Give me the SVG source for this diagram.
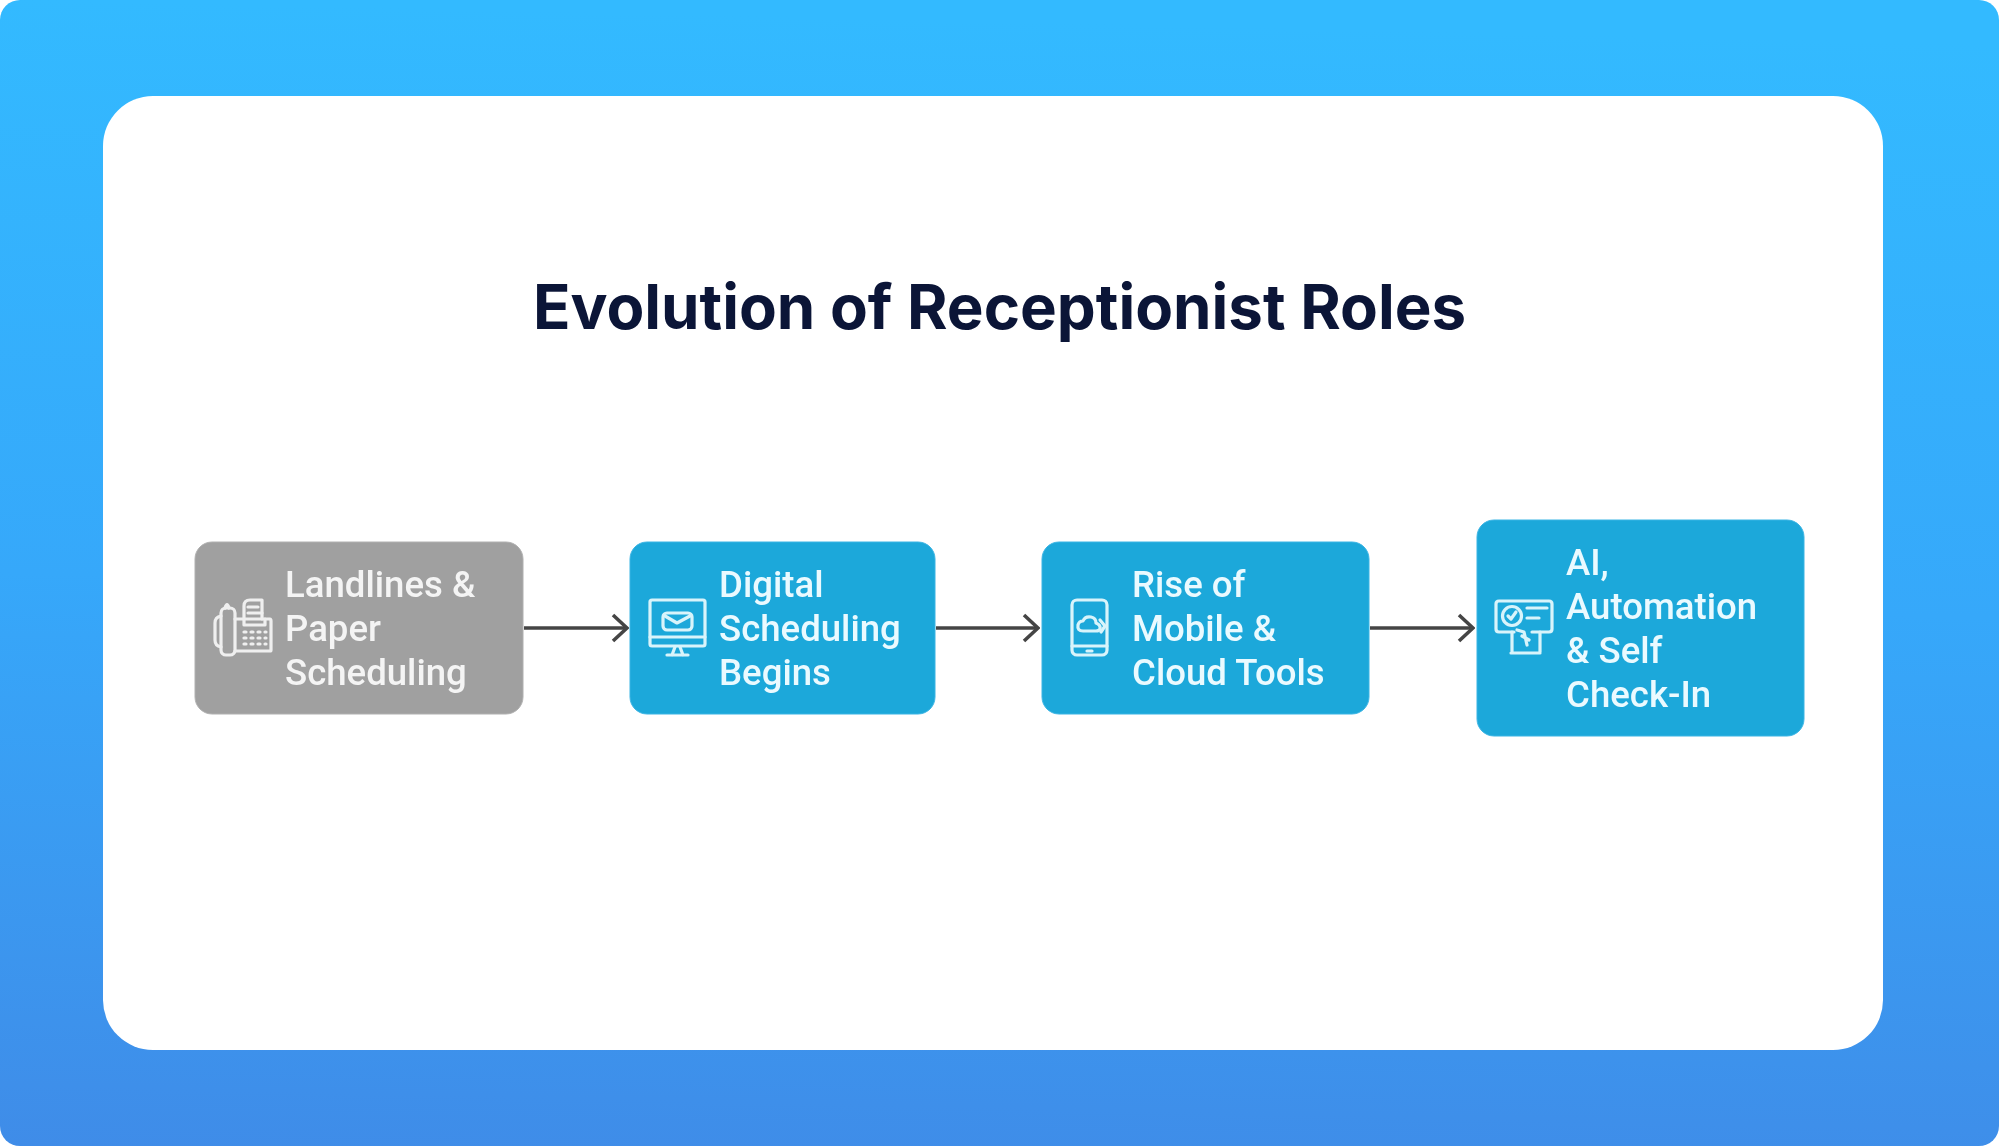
<svg xmlns="http://www.w3.org/2000/svg" width="1999" height="1146" viewBox="0 0 1999 1146">
<defs>
<linearGradient id="bg" x1="0.04" y1="0" x2="0" y2="1"><stop offset="0" stop-color="#33baff"/><stop offset="0.5" stop-color="#36a8fa"/><stop offset="1" stop-color="#3f8ce8"/></linearGradient>
<marker id="arrow" viewBox="0 0 18 30" refX="16" refY="15" markerWidth="18" markerHeight="30" markerUnits="userSpaceOnUse" orient="auto"><path d="M2 2 L16 15 L2 28" fill="none" stroke="#444" stroke-width="3.6"/></marker>
<filter id="soft" filterUnits="userSpaceOnUse" x="0" y="0" width="1999" height="1146"><feGaussianBlur stdDeviation="0.6"/></filter>
</defs>
<style>
.box{fill:#1fa8da;stroke:#3ab4e4;stroke-width:1}
.grey{fill:#a0a0a0;stroke:#b0b0b0;stroke-width:1}
.lbl{font-family:Roboto,"Liberation Sans",sans-serif;font-size:36.6px;font-weight:500;fill:#eafaff}
.lg{fill:#f4f4f4}
.ic{fill:none;stroke:#d8f4fb;stroke-width:3.2;stroke-linecap:round;stroke-linejoin:round}
.icg{stroke:#efefef}
.conn{fill:none;stroke:#444;stroke-width:3.6;marker-end:url(#arrow)}
.node,#connectors{filter:url(#soft)}
</style>
<rect width="1999" height="1146" fill="#fff"/>
<rect width="1999" height="1146" rx="20" fill="url(#bg)"/>
<rect x="103" y="96" width="1780" height="954" rx="50" fill="#fff"/>
<text x="999.5" y="329" text-anchor="middle" font-family="Inter,'Liberation Sans',sans-serif" font-weight="700" font-size="61.8" fill="#0b1537">Evolution of Receptionist Roles</text>
<g id="connectors">
<path class="conn" d="M524 628 H627"/>
<path class="conn" d="M936 628 H1038"/>
<path class="conn" d="M1370 628 H1473"/>
</g>
<g id="node-landlines" class="node">
<rect class="grey" x="195" y="542" width="328" height="172" rx="17"/>
<g class="ic icg">
<path d="M225 608 Q227 601 229 608"/>
<rect x="221" y="608" width="14" height="47" rx="5"/>
<path d="M221 616 Q215 617 215 623 V640 Q215 646 221 647"/>
<path d="M235 619 H270 Q271 619 271 621 V650 Q271 651 270 651 H235"/>
<path d="M244 619 V606 Q244 600 250 600 H262 V619"/>
<path d="M248 607 H258 M248 613 H262"/>
<path d="M244 619 V625 H265 V619"/>
<path d="M244 632 h2 M251 632 h2 M258 632 h2 M265 632 h1 M244 638 h2 M251 638 h2 M258 638 h2 M265 638 h1 M244 644 h2 M251 644 h2 M258 644 h2 M265 644 h1"/>
</g>
<text class="lbl lg" x="285"><tspan y="597">Landlines &amp;</tspan><tspan x="285" y="641">Paper</tspan><tspan x="285" y="685">Scheduling</tspan></text>
</g>
<g id="node-digital" class="node">
<rect class="box" x="630" y="542" width="305" height="172" rx="17"/>
<g class="ic">
<rect x="650" y="600" width="55" height="46" rx="2"/>
<path d="M650 637 H705"/>
<rect x="663" y="613" width="29" height="17" rx="4"/>
<path d="M665 616 L677 623 L690 616"/>
<path d="M675 647 L672 655 M680 647 L683 655 M667 655 H688"/>
</g>
<text class="lbl" x="719"><tspan y="597">Digital</tspan><tspan x="719" y="641">Scheduling</tspan><tspan x="719" y="685">Begins</tspan></text>
</g>
<g id="node-mobile" class="node">
<rect class="box" x="1042" y="542" width="327" height="172" rx="17"/>
<g class="ic">
<rect x="1072" y="600" width="35" height="55" rx="5"/>
<path d="M1072 646 H1107 M1087 651 H1092"/>
<path d="M1083 631 Q1077 631 1078 625 Q1079 621 1083 621 Q1085 616 1091 617 Q1096 618 1096 623 Q1101 625 1100 629 Q1099 631 1096 631 Z"/>
<path d="M1100 620 L1105 626 L1101 632"/>
</g>
<text class="lbl" x="1132"><tspan y="597">Rise of</tspan><tspan x="1132" y="641">Mobile &amp;</tspan><tspan x="1132" y="685">Cloud Tools</tspan></text>
</g>
<g id="node-ai" class="node">
<rect class="box" x="1477" y="520" width="327" height="216" rx="17"/>
<g class="ic">
<path d="M1514 632 H1499 Q1496 632 1496 629 V604 Q1496 601 1499 601 H1549 Q1552 601 1552 604 V629 Q1552 632 1549 632 H1532"/>
<circle cx="1512" cy="616" r="9.5"/>
<path d="M1508 616 L1511 619 L1516 612"/>
<path d="M1527 608 H1547 M1527 618 H1539"/>
<path d="M1512 632 V652 M1540 632 V652 M1511 653 H1540"/>
<path d="M1517 630 L1524 632 L1527 645 M1522 636 L1529 640"/>
</g>
<text class="lbl" x="1566"><tspan y="575">AI,</tspan><tspan x="1566" y="619">Automation</tspan><tspan x="1566" y="663">&amp; Self</tspan><tspan x="1566" y="707">Check-In</tspan></text>
</g>
</svg>
